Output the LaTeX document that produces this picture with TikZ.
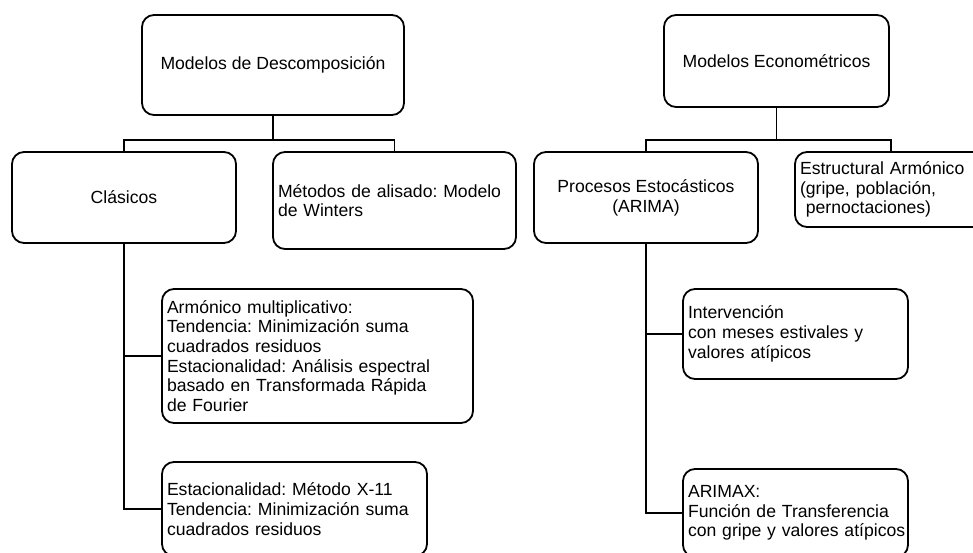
\documentclass[tikz,border=0pt]{standalone}
\usepackage{fontspec}
\setmainfont{Liberation Sans}
\frenchspacing

\begin{document}
\begin{tikzpicture}[x=1pt,y=-1pt,line width=1.8pt,
    every node/.style={font=\fontsize{17.6}{19.7}\selectfont},
    caja/.style 2 args={draw,rounded corners=12pt,minimum width=#1pt,minimum height=#2pt,inner xsep=5pt},
    izq/.style={align=left}]
    \useasboundingbox (0,0) rectangle (973,553);
    \clip (0,0) rectangle (973,553);

    % descomposicion
    \node[caja={262}{100}] (descomp) at (273,65) {Modelos de Descomposición};
    \node[caja={224}{91}] (clasicos) at (124,197.5) {Clásicos};
    \node[caja={243}{97},izq,text width=233pt] (alisado) at (394.5,200.5) {Métodos de alisado: Modelo\\de Winters};
    \node[caja={311}{134},izq,text width=301pt] (armonico) at (317.5,356) {Armónico multiplicativo:\\Tendencia: Minimización suma\\cuadrados residuos\\Estacionalidad: Análisis espectral\\basado en Transformada Rápida\\de Fourier};
    \node[caja={265}{94},izq,text width=255pt] (xonce) at (294.5,509) {Estacionalidad: Método X-11\\Tendencia: Minimización suma\\cuadrados residuos};

    % econometricos
    \node[caja={225}{92}] (econom) at (776.5,61) {Modelos Econométricos};
    \node[caja={224}{91},align=center] (arima) at (646,197.5) {Procesos Estocásticos\\(ARIMA)};
    \node[caja={192}{75},izq,text width=182pt] (estructural) at (891,189.5) {Estructural Armónico\\(gripe, población,\\~pernoctaciones)};
    \node[caja={225}{90},izq,text width=215pt] (interv) at (795.5,334) {Intervención\\con meses estivales y\\valores atípicos};
    \node[caja={225}{88},izq,text width=215pt] (arimax) at (795.5,513) {ARIMAX:\\Función de Transferencia\\\mbox{con gripe y valores atípicos}};

    % conectores
    \coordinate (nudoizq) at (273,140);
    \coordinate (nudoder) at (776.5,140);
    \draw (descomp.south) -- (nudoizq) -| (clasicos.north);
    \draw (nudoizq) -| (alisado.north);
    \draw (clasicos.south) |- (armonico.west);
    \draw (clasicos.south) |- (xonce.west);
    \draw (econom.south) -- (nudoder) -| (arima.north);
    \draw (nudoder) -| (estructural.north);
    \draw (arima.south) |- (interv.west);
    \draw (arima.south) |- (arimax.west);
\end{tikzpicture}
\end{document}
